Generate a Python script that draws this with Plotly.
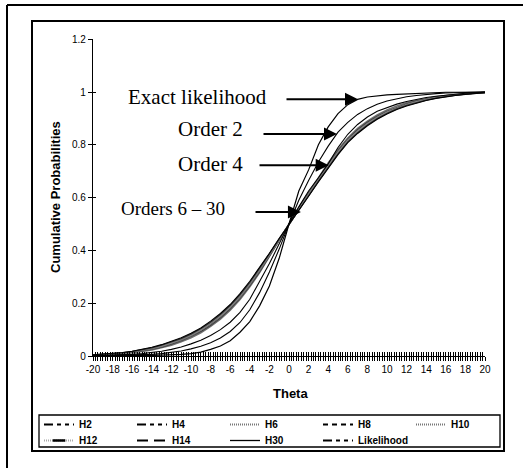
import plotly.graph_objects as go

W, H = 523, 468

theta = list(range(-20, 21))

H2 = [0.000,0.001,0.001,0.002,0.003,0.004,0.006,0.009,0.013,0.019,0.027,0.037,0.050,0.068,0.093,0.127,0.175,0.240,0.318,0.405,0.500,
      0.590,0.665,0.735,0.795,0.848,0.885,0.915,0.937,0.954,0.966,0.975,0.982,0.987,0.991,0.994,0.996,0.997,0.998,0.999,1.000]
H4 = [0.001,0.002,0.003,0.004,0.006,0.009,0.013,0.018,0.025,0.034,0.046,0.060,0.078,0.100,0.128,0.165,0.215,0.280,0.350,0.425,0.500,
      0.565,0.625,0.675,0.728,0.790,0.840,0.877,0.905,0.927,0.942,0.954,0.964,0.972,0.979,0.984,0.988,0.992,0.995,0.997,0.999]
H6 = [0.002,0.003,0.005,0.008,0.012,0.017,0.023,0.031,0.041,0.054,0.069,0.088,0.112,0.140,0.174,0.214,0.262,0.316,0.376,0.438,0.500,
      0.562,0.620,0.676,0.731,0.782,0.826,0.862,0.890,0.913,0.932,0.947,0.959,0.968,0.976,0.982,0.987,0.991,0.994,0.997,0.999]
H8 = [0.003,0.004,0.006,0.009,0.013,0.019,0.026,0.034,0.045,0.058,0.074,0.093,0.117,0.145,0.179,0.219,0.267,0.320,0.379,0.440,0.500,
      0.559,0.616,0.671,0.726,0.777,0.821,0.857,0.885,0.908,0.927,0.942,0.955,0.965,0.973,0.980,0.986,0.990,0.993,0.996,0.998]
H10 = [0.003,0.005,0.007,0.010,0.014,0.020,0.028,0.036,0.047,0.061,0.077,0.097,0.121,0.149,0.183,0.223,0.271,0.324,0.382,0.441,0.500,
       0.557,0.613,0.668,0.723,0.773,0.818,0.853,0.881,0.905,0.924,0.940,0.953,0.963,0.972,0.979,0.985,0.989,0.993,0.996,0.998]
H12 = [0.004,0.006,0.008,0.011,0.016,0.022,0.030,0.039,0.050,0.064,0.080,0.100,0.125,0.153,0.187,0.228,0.275,0.328,0.385,0.443,0.500,
       0.555,0.610,0.665,0.720,0.770,0.815,0.850,0.878,0.902,0.922,0.938,0.951,0.962,0.971,0.978,0.984,0.989,0.993,0.996,0.998]
H14 = [0.004,0.006,0.009,0.012,0.017,0.023,0.031,0.041,0.052,0.066,0.083,0.103,0.128,0.157,0.191,0.232,0.279,0.331,0.387,0.444,0.500,
       0.553,0.607,0.662,0.716,0.766,0.811,0.846,0.875,0.899,0.919,0.936,0.949,0.960,0.969,0.977,0.983,0.988,0.992,0.995,0.998]
H30 = [0.005,0.007,0.010,0.013,0.018,0.025,0.033,0.043,0.055,0.069,0.086,0.106,0.132,0.161,0.195,0.236,0.283,0.334,0.389,0.445,0.500,
       0.552,0.605,0.659,0.713,0.763,0.808,0.843,0.872,0.897,0.917,0.934,0.947,0.958,0.968,0.976,0.982,0.987,0.991,0.995,0.997]
Likelihood = [0.000,0.000,0.000,0.001,0.001,0.001,0.002,0.003,0.004,0.006,0.009,0.015,0.025,0.038,0.058,0.090,0.130,0.190,0.265,0.370,0.500,
              0.625,0.705,0.800,0.868,0.918,0.952,0.972,0.981,0.986,0.989,0.991,0.993,0.995,0.997,0.998,0.999,0.999,1.000,1.000,1.000]

series_names = ["H2", "H4", "H6", "H8", "H10", "H12", "H14", "H30", "Likelihood"]
series_values = [H2, H4, H6, H8, H10, H12, H14, H30, Likelihood]

x_tick_vals = list(range(-20, 21, 2))
x_tick_text = ["-20", "-18", "-16", "-14", "-12", "-10", "-8", "-6", "-4", "-2", "0",
               "2", "4", "6", "8", "10", "12", "14", "16", "18", "20"]
y_tick_vals = [0, 0.2, 0.4, 0.6, 0.8, 1.0, 1.2]
y_tick_text = ["0", "0.2", "0.4", "0.6", "0.8", "1", "1.2"]

annot_labels = ["Exact likelihood", "Order 2", "Order 4", "Orders 6 \u2013 30"]
annot_tips = [(7.04, 0.973), (4.9, 0.841), (4.05, 0.723), (1.22, 0.545)]

# ---- styling ----
curve_color = {"H2": "black", "H4": "black", "H6": "#6e6e6e", "H8": "#333", "H10": "#6e6e6e",
               "H12": "#888", "H14": "#333", "H30": "black", "Likelihood": "black"}
curve_width = {"H2": 1.1, "H4": 1.1, "H6": 1.6, "H8": 1.3, "H10": 1.6, "H12": 1.6, "H14": 1.3,
               "H30": 1.1, "Likelihood": 1.2}
legend_style = {
    "H2": dict(color="black", width=2, dash="9px,4px,4px,4px,4px,4px"),
    "H4": dict(color="black", width=2, dash="9px,4px,4px,4px,4px,4px"),
    "H6": dict(color="#777", width=2, dash="1px,1px"),
    "H8": dict(color="black", width=2, dash="5px,4px"),
    "H10": dict(color="#777", width=2, dash="1px,1px"),
    "H12": dict(color="#aaa", width=2, dash="1px,1px"),
    "H14": dict(color="black", width=2, dash="11px,6px"),
    "H30": dict(color="black", width=1.3, dash="solid"),
    "Likelihood": dict(color="black", width=2, dash="9px,4px,4px,4px,4px,4px"),
}
legend_row = {"H2": "legend", "H4": "legend", "H6": "legend", "H8": "legend", "H10": "legend",
              "H12": "legend2", "H14": "legend2", "H30": "legend2", "Likelihood": "legend2"}

def px(x):
    return x / W

def py(y):
    return 1 - y / H

fig = go.Figure()

draw_order = ["H6", "H8", "H10", "H12", "H14", "H30", "H4", "H2", "Likelihood"]
for name in draw_order:
    vals = series_values[series_names.index(name)]
    fig.add_trace(go.Scatter(x=theta, y=vals, mode="lines", showlegend=False,
                             line=dict(color=curve_color[name], width=curve_width[name]), hoverinfo="skip"))

for name in series_names:
    kw = {}
    mode = "lines"
    if name == "H12":
        mode = "lines+markers"
        kw["marker"] = dict(symbol="line-ew", size=9, line=dict(color="black", width=2.5), color="black")
    fig.add_trace(go.Scatter(x=[None], y=[None], mode=mode, name=name, legend=legend_row[name],
                             line=legend_style[name], **kw))

# helper trace for the inner-tick overlay axes
fig.add_trace(go.Scatter(x=[None], y=[None], xaxis="x2", yaxis="y2", showlegend=False, hoverinfo="skip"))

x0p, x1p = 93, 485
y0p, y1p = 356, 39.2

tickfont = dict(family="Liberation Sans, Arial", size=10, color="black")
legfont = dict(family="Liberation Sans, Arial", size=10, color="black", weight="bold")
legcommon = dict(orientation="h", xanchor="left", yanchor="top",
                 entrywidth=48, entrywidthmode="pixels", bgcolor="rgba(0,0,0,0)", borderwidth=0,
                 font=legfont, traceorder="normal", itemwidth=30, tracegroupgap=0)

fig.update_layout(
    width=W, height=H,
    margin=dict(l=0, r=0, t=0, b=0, autoexpand=False),
    paper_bgcolor="white", plot_bgcolor="white",
    xaxis=dict(domain=[px(x0p), px(x1p)], range=[-20, 20], tickvals=x_tick_vals, ticktext=x_tick_text, tickangle=0,
               ticks="outside", ticklen=4, tickwidth=1, tickcolor="black",
               minor=dict(dtick=0.25, tick0=0, ticks="outside", ticklen=4, tickwidth=1, tickcolor="black", showgrid=False),
               showline=True, linecolor="black", linewidth=1.3, showgrid=False, zeroline=False,
               tickfont=tickfont, anchor="y", automargin=False),
    xaxis2=dict(domain=[px(x0p), px(x1p)], range=[-20, 20], overlaying="x", anchor="y2", tickvals=x_tick_vals,
                ticks="inside", ticklen=4, tickwidth=1, tickcolor="black",
                minor=dict(dtick=0.25, tick0=0, ticks="inside", ticklen=4, tickwidth=1, tickcolor="black", showgrid=False),
                showticklabels=False, showline=False, showgrid=False, zeroline=False, side="bottom", automargin=False),
    yaxis=dict(domain=[py(y0p), py(y1p)], range=[0, 1.2], tickvals=y_tick_vals, ticktext=y_tick_text,
               ticks="outside", ticklen=4, tickwidth=1, tickcolor="black",
               showline=True, linecolor="black", linewidth=1.3, showgrid=False, zeroline=False,
               tickfont=tickfont, anchor="x", automargin=False),
    yaxis2=dict(domain=[py(y0p), py(y1p)], range=[0, 1.2], overlaying="y", anchor="x2", tickvals=y_tick_vals,
                ticks="inside", ticklen=3, tickwidth=1, tickcolor="black",
                showticklabels=False, showline=False, showgrid=False, zeroline=False, side="left", automargin=False),
    legend=dict(x=px(39), y=py(410), **legcommon),
    legend2=dict(x=px(39), y=py(426), **legcommon),
    showlegend=True,
)

shapes = [
    # outer frame (top and left edges visible)
    dict(type="line", xref="paper", yref="paper", x0=px(7), x1=px(523), y0=py(5), y1=py(5), line=dict(color="black", width=2)),
    dict(type="line", xref="paper", yref="paper", x0=px(7), x1=px(7), y0=py(5), y1=py(468), line=dict(color="black", width=2)),
    # inner chart frame
    dict(type="rect", xref="paper", yref="paper", x0=px(32), x1=px(504), y0=py(451), y1=py(21), line=dict(color="black", width=2)),
    # legend box
    dict(type="rect", xref="paper", yref="paper", x0=px(39), x1=px(500), y0=py(447), y1=py(415), line=dict(color="black", width=1.3)),
]
fig.update_layout(shapes=shapes)

serif = dict(family="Liberation Serif, Times New Roman", color="black")
text_pos = [(197, 97, 21), (210, 129, 21), (210, 164, 21), (173, 209, 19)]
tails = [285, 262, 258, 254]
annotations = []
for label, (tx, ty, fs) in zip(annot_labels, text_pos):
    annotations.append(dict(text=label, x=px(tx), y=py(ty), xref="paper", yref="paper",
                            showarrow=False, xanchor="center", yanchor="middle", font=dict(size=fs, **serif)))
for (tx, ty), tail in zip(annot_tips, tails):
    tip_px = x0p + (tx + 20) / 40 * (x1p - x0p)
    annotations.append(dict(text="", x=tx, y=ty, xref="x", yref="y", ax=tail - tip_px, ay=0,
                            showarrow=True, arrowhead=2, arrowsize=1.3, arrowwidth=2, arrowcolor="black", standoff=0))
annotations.append(dict(text="<b>Cumulative Probabilities</b>", x=px(55), y=py(197), xref="paper", yref="paper",
                        showarrow=False, textangle=-90, xanchor="center", yanchor="middle",
                        font=dict(family="Liberation Sans, Arial", size=13, color="black")))
annotations.append(dict(text="<b>Theta</b>", x=px(290), y=py(393), xref="paper", yref="paper",
                        showarrow=False, xanchor="center", yanchor="middle",
                        font=dict(family="Liberation Sans, Arial", size=13, color="black")))
fig.update_layout(annotations=annotations)

fig.write_html("out.html")
